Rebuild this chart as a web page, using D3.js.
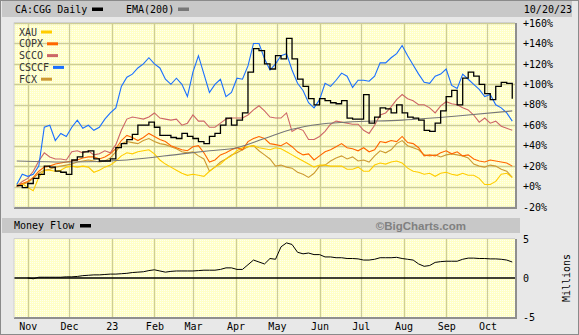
<!DOCTYPE html>
<html>
<head>
<meta charset="utf-8">
<script src="https://cdn.jsdelivr.net/npm/d3@7/dist/d3.min.js"></script>
<style>
body { margin: 0; background: #fff; }
text { font-family: "DejaVu Sans Mono", monospace; font-size: 10px; }
</style>
</head>
<body>
<div id="chart"></div>
<script>
// sample dates: every 4 days from Oct 24 2022
var firstDate = new Date(2022, 9, 24);
var dates = d3.range(91).map(i => d3.timeDay.offset(firstDate, i * 4));

// % change since start
var xau = [2,3,-1,-4,9,16,16,15,16,19, 20,19,20,19,14,16,19,21,25,30, 33,32,34,35,36,32,26,22,19,16,
	13,11,12,11,10,15,19,22,27,30, 35,38,39,40,38,37,36,38,37,34, 31,28,25,22,19,21,21,20,20,20,
	17,17,19,15,15,21,23,22,24,25, 23,18,15,14,12,13,10,13,14,12, 11,13,11,11,8,2,2,5,12,13, 9];
var copx = [0,3,5,9,15,19,20,22,23,24, 25,26,28,29,29,27,29,32,37,45, 50,48,45,48,52,49,46,44,40,38,
	36,35,39,40,33,24,26,31,33,36, 38,36,44,47,49,47,42,41,40,43, 39,34,31,32,26,30,34,36,39,42,
	38,37,35,38,34,36,44,43,45,44, 49,43,42,38,30,31,30,33,35,32, 34,30,31,27,25,24,26,25,24,23, 20];
var scco = [0,5,8,15,25,33,29,27,27,26, 34,35,33,35,31,32,35,33,41,55, 66,68,67,66,68,72,67,66,65,66,
	60,62,70,64,64,58,58,62,66,67, 67,67,70,75,79,74,68,67,67,72, 54,57,55,46,46,49,54,61,64,63,
	62,61,61,55,52,60,70,72,78,85, 90,86,84,80,80,77,72,79,83,81, 80,77,75,70,63,67,62,64,59,57, 55];
var csccf = [2,12,10,12,20,58,60,45,52,49, 58,65,57,60,55,58,66,72,77,98, 107,110,116,120,126,120,116,105,100,106,
	100,88,112,128,110,92,100,105,88,92, 106,105,118,140,140,125,114,120,128,130, 114,101,94,82,77,85,101,98,104,111,
	108,97,104,104,103,108,121,121,126,130, 138,128,119,110,102,101,108,110,115,99, 96,110,105,100,95,88,90,80,77,72, 64];
var fcx = [0,2,4,8,13,16,17,19,20,21, 22,24,25,26,25,24,25,28,34,42, 44,43,42,45,47,44,42,41,39,37,
	34,33,34,30,27,15,19,24,27,31, 33,36,39,40,35,31,27,20,21,19, 18,14,12,9,13,20,21,25,28,30,
	27,29,25,26,24,30,35,33,36,42, 45,40,38,36,31,30,31,29,31,32, 31,30,28,22,20,19,21,20,17,15, 9];
var cgg = [1,-1,3,8,12,20,19,15,14,12, 26,29,34,35,27,25,25,27,38,42, 46,51,60,60,63,58,50,50,48,47,
	52,49,47,44,42,49,52,60,67,60, 65,72,112,135,133,120,115,128,125,145, 125,105,98,86,80,86,84,82,81,84,
	67,66,66,90,62,68,77,76,72,80, 72,68,67,65,55,54,62,74,88,94, 80,106,112,108,100,91,85,98,102,101, 86];

var emaDates = ["2022-10-24","2022-12-03","2023-01-12","2023-02-21","2023-03-13","2023-04-02","2023-04-22",
	"2023-05-12","2023-06-01","2023-06-21","2023-07-31","2023-09-09","2023-10-19"];
var ema = [25,24,26,32,35,38,47,56,61,63,65,69,74];

// money flow, millions (no value for the first two dates)
var mflow = [null,null,0,-0.1,0.1,0.1,0.1,0.1,0.1,0.15, 0.15,0.2,0.3,0.35,0.4,0.4,0.45,0.5,0.5,0.55,
	0.6,0.7,0.75,0.8,0.95,1.05,0.9,0.75,0.85,0.9, 0.9,0.9,0.9,0.95,1.0,1.0,1.0,1.1,1.3,1.3,
	1.1,1.1,1.7,2.3,2.05,1.8,2.5,2.4,4.0,4.5, 4.3,3.3,3.1,3.2,3.0,3.0,2.7,2.7,2.6,2.6,
	2.5,2.5,2.45,2.3,2.3,2.4,2.6,2.6,2.6,2.65, 2.5,2.4,2.3,1.8,1.5,1.6,2.0,2.1,2.15,2.15,
	2.15,2.4,2.55,2.55,2.5,2.5,2.45,2.45,2.4,2.3, 2.05];

var monthDates = ["2022-11-01","2022-12-01","2023-01-01","2023-02-01","2023-03-01","2023-04-01",
	"2023-05-01","2023-06-01","2023-07-01","2023-08-01","2023-09-01","2023-10-01"];
var monthLabels = ["Nov","Dec","23","Feb","Mar","Apr","May","Jun","Jul","Aug","Sep","Oct"];
var pctTicks = [-20,0,20,40,60,80,100,120,140,160];
var mfTicks = [-5,0,5];

var seriesNames = ["XAU","COPX","SCCO","CSCCF","FCX"];
var seriesColors = ["#ffcc00","#ff6600","#cc6666","#1a6fff","#cc9933"];
var seriesValues = [xau, copx, scco, csccf, fcx];

var parse = d3.timeParse("%Y-%m-%d");
var W = 579, H = 335;
var left = 14, right = 515;

var svg = d3.select("#chart").append("svg").attr("width", W).attr("height", H);

var defs = svg.append("defs");
var pat = defs.append("pattern").attr("id", "dots").attr("width", 2).attr("height", 2)
	.attr("patternUnits", "userSpaceOnUse");
pat.append("rect").attr("width", 2).attr("height", 2).attr("fill", "#ffffc6");
pat.append("rect").attr("width", 1).attr("height", 1).attr("fill", "#fffff0");

// outer frame
svg.append("rect").attr("x", 0.5).attr("y", 0.5).attr("width", W - 1).attr("height", H - 1)
	.attr("fill", "#e8e8e8").attr("stroke", "#8a8a8a");

// header bars
svg.append("rect").attr("x", 2).attr("y", 1).attr("width", 570).attr("height", 16).attr("fill", "#c8c8c8");
svg.append("rect").attr("x", 2).attr("y", 218).attr("width", 518).attr("height", 15).attr("fill", "#c8c8c8");

var x = d3.scaleTime().domain([new Date(2022, 9, 22), new Date(2023, 9, 21)]).range([left, right]);
var y = d3.scaleLinear().domain([-20, 160]).range([207, 23]);
var ym = d3.scaleLinear().domain([-5, 5]).range([317, 239]);

function panel(y0, y1) {
	svg.append("rect").attr("x", left).attr("y", y0).attr("width", right - left).attr("height", y1 - y0)
		.attr("fill", "url(#dots)");
	svg.append("g").selectAll("line").data(monthDates).join("line")
		.attr("x1", d => Math.round(x(parse(d))) + 0.5).attr("x2", d => Math.round(x(parse(d))) + 0.5)
		.attr("y1", y0).attr("y2", y1)
		.attr("stroke", "#cdcd96").attr("stroke-width", 1.3);
}

// ---- price panel
panel(23, 207);
svg.append("g").selectAll("line").data(pctTicks).join("line")
	.attr("x1", left).attr("x2", right)
	.attr("y1", d => Math.round(y(d)) + 0.5).attr("y2", d => Math.round(y(d)) + 0.5)
	.attr("stroke", "#cdcd96").attr("stroke-width", 1.3);

var line = d3.line().x((d, i) => x(dates[i])).y(d => y(d));

[4, 0, 1, 2, 3].forEach(j => {
	svg.append("path").datum(seriesValues[j])
		.attr("d", line)
		.attr("fill", "none").attr("stroke", seriesColors[j]).attr("stroke-width", 1.1);
});

svg.append("path").datum(ema)
	.attr("d", d3.line().x((d, i) => x(parse(emaDates[i]))).y(d => y(d)).curve(d3.curveMonotoneX))
	.attr("fill", "none").attr("stroke", "#777").attr("stroke-width", 1.1);

svg.append("path").datum(cgg)
	.attr("d", line.curve(d3.curveStepAfter))
	.attr("fill", "none").attr("stroke", "#000").attr("stroke-width", 1.3);

// frame lines of the price panel
svg.append("path").attr("d", "M" + left + ",208 H" + (right + 1) + " V23")
	.attr("fill", "none").attr("stroke", "#8f8f8f").attr("stroke-width", 2);
svg.append("path").attr("d", "M" + left + ",208 V22.5 H" + right)
	.attr("fill", "none").attr("stroke", "#d0d0d0").attr("stroke-width", 1);

svg.append("g").attr("transform", "translate(" + right + ",0)")
	.call(d3.axisRight(y).tickValues(pctTicks).tickSize(0).tickPadding(8)
		.tickFormat(d => (d >= 0 ? "+" : "") + d + "%"))
	.call(g => g.select(".domain").remove())
	.selectAll("text").attr("font-size", 10).attr("font-family", "DejaVu Sans Mono").attr("fill", "#000");

// legend
var leg = svg.append("g").selectAll("g").data(seriesNames).join("g")
	.attr("transform", (d, i) => "translate(19," + (32 + i * 11.8) + ")");
leg.append("text").attr("dy", "0.35em").attr("fill", "#333").text(d => d);
leg.append("rect").attr("x", d => d.length * 6 + 4).attr("y", -1.5).attr("width", 11).attr("height", 3)
	.attr("fill", (d, i) => seriesColors[i]);

// header
svg.append("text").attr("x", 15).attr("y", 9).attr("dy", "0.35em").attr("fill", "#000").text("CA:CGG Daily");
svg.append("rect").attr("x", 92).attr("y", 7.5).attr("width", 11).attr("height", 3.5).attr("fill", "#000");
svg.append("text").attr("x", 126).attr("y", 9).attr("dy", "0.35em").attr("fill", "#000").text("EMA(200)");
svg.append("rect").attr("x", 178).attr("y", 7.5).attr("width", 11).attr("height", 3.5).attr("fill", "#777");
svg.append("text").attr("x", 572).attr("y", 9).attr("dy", "0.35em").attr("text-anchor", "end")
	.attr("fill", "#000").text("10/20/23");

// ---- money flow panel
svg.append("text").attr("x", 14).attr("y", 225.5).attr("dy", "0.35em").attr("fill", "#000").text("Money Flow");
svg.append("rect").attr("x", 80).attr("y", 224).attr("width", 11).attr("height", 3.5).attr("fill", "#000");
svg.append("text").attr("x", 466).attr("y", 225.5).attr("dy", "0.35em").attr("text-anchor", "end")
	.attr("fill", "#808080").style("font-family", "Liberation Sans, Arial, sans-serif")
	.style("font-size", "11.5px").style("font-weight", "bold").text("\u00a9BigCharts.com");

panel(239, 317);
svg.append("line").attr("x1", left).attr("x2", right).attr("y1", ym(0)).attr("y2", ym(0))
	.attr("stroke", "#000").attr("stroke-width", 1.3);

svg.append("path").datum(mflow)
	.attr("d", d3.line().defined(d => d !== null).x((d, i) => x(dates[i])).y(d => ym(d)))
	.attr("fill", "none").attr("stroke", "#000").attr("stroke-width", 1);

svg.append("path").attr("d", "M" + left + ",318 H" + (right + 1) + " V239")
	.attr("fill", "none").attr("stroke", "#8f8f8f").attr("stroke-width", 2);
svg.append("path").attr("d", "M" + left + ",318 V238.5 H" + right)
	.attr("fill", "none").attr("stroke", "#d0d0d0").attr("stroke-width", 1);

svg.append("g").attr("transform", "translate(" + right + ",0)")
	.call(d3.axisRight(ym).tickValues(mfTicks).tickSize(0).tickPadding(8).tickFormat(d => d))
	.call(g => g.select(".domain").remove())
	.selectAll("text").attr("font-size", 10).attr("font-family", "DejaVu Sans Mono").attr("fill", "#000");

svg.append("text").attr("transform", "translate(566,278) rotate(-90)").attr("text-anchor", "middle")
	.attr("dy", "0.35em").attr("fill", "#000").text("Millions");

svg.append("g").attr("transform", "translate(0,318)")
	.call(d3.axisBottom(x).tickValues(monthDates.map(parse)).tickSize(0).tickPadding(5)
		.tickFormat((d, i) => monthLabels[i]))
	.call(g => g.select(".domain").remove())
	.selectAll("text").attr("font-size", 10).attr("font-family", "DejaVu Sans Mono").attr("fill", "#000");
</script>
</body>
</html>
